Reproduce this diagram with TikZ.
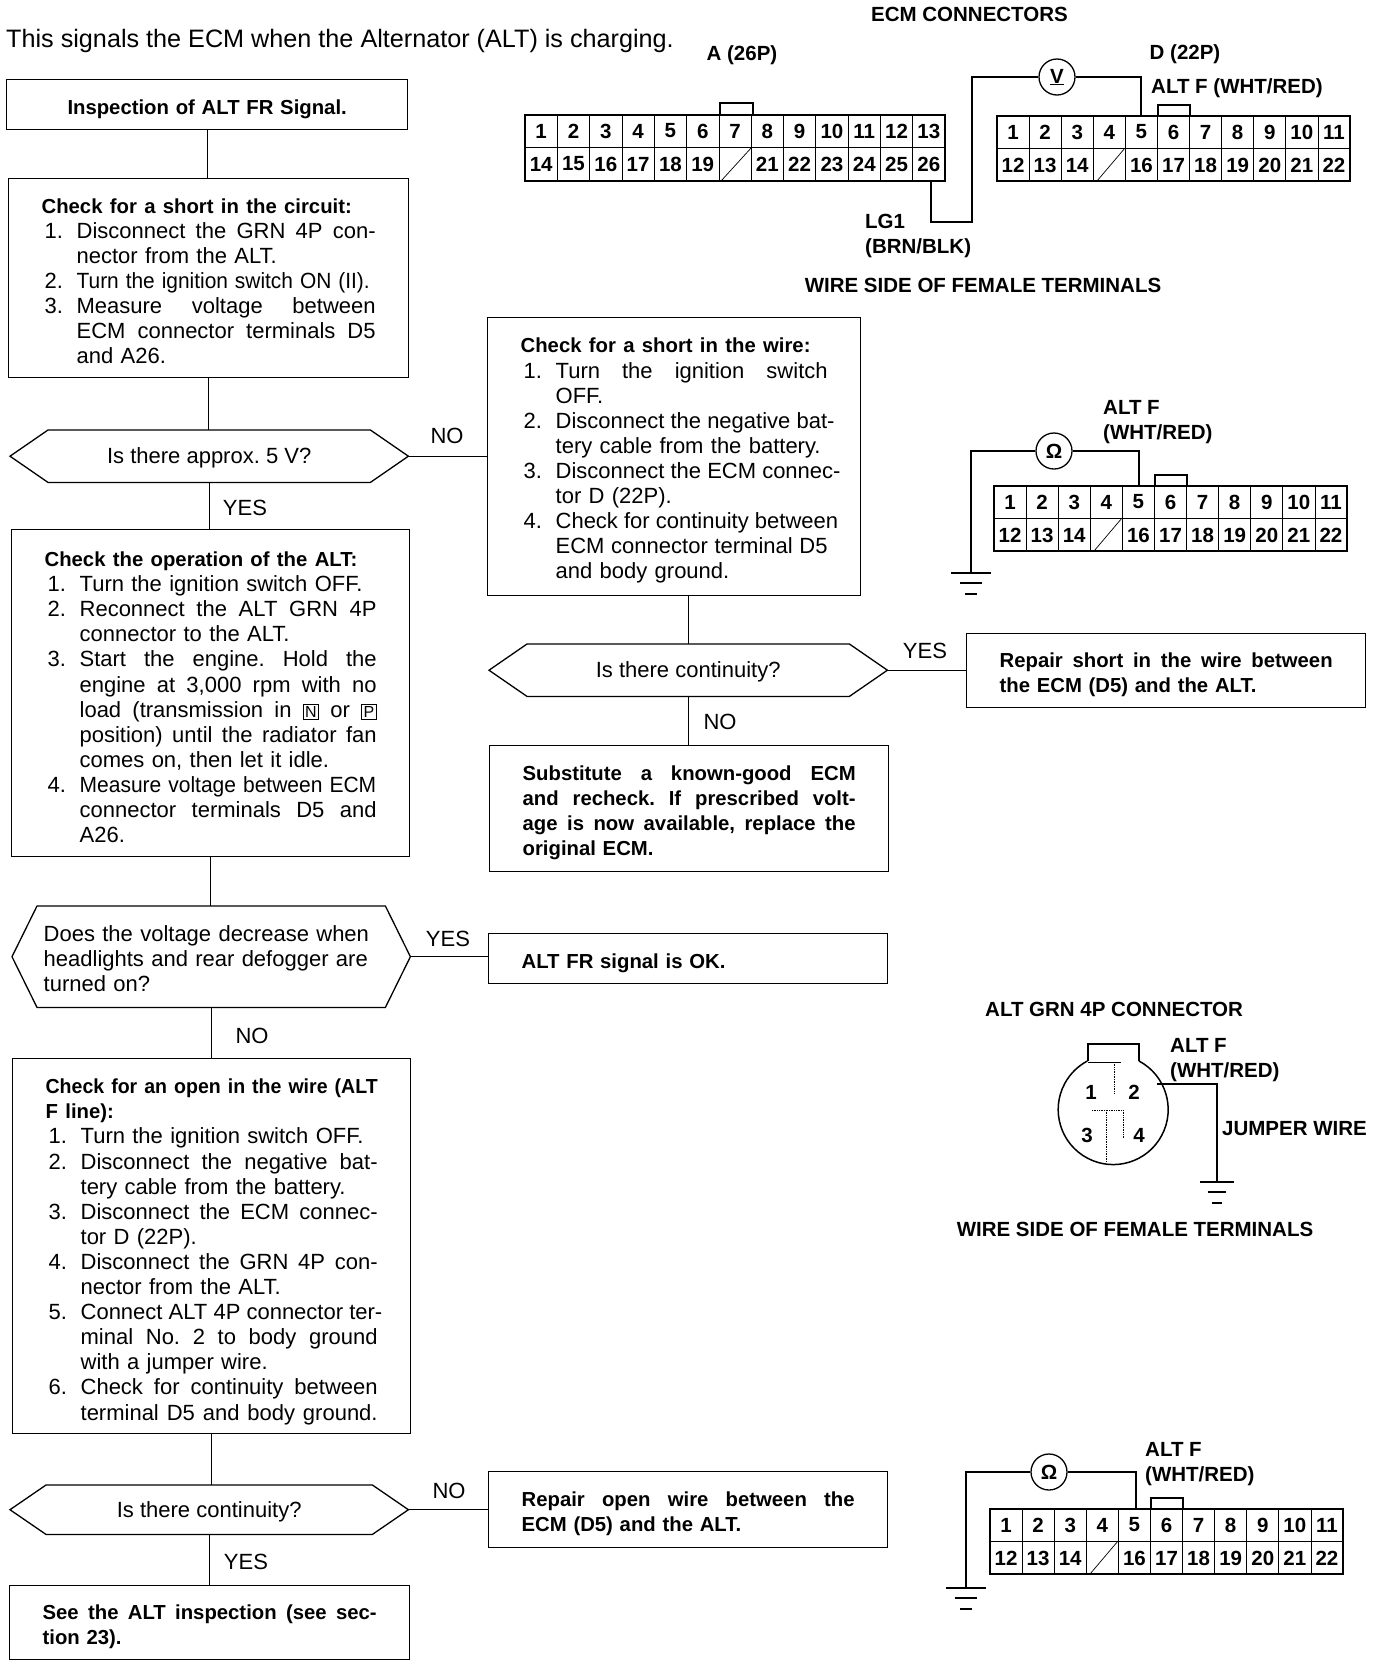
\documentclass[tikz,border=0pt]{standalone}
\usepackage{fontspec}
\setmainfont{Liberation Sans}
\frenchspacing
\newlength{\lw}
\newcommand{\tfont}{\fontsize{22}{25.1}\selectfont}
\newcommand{\bfont}{\fontsize{20.3}{25.1}\selectfont\bfseries}
\newcommand{\lfont}{\fontsize{20.5}{25}\selectfont\bfseries}
\newcommand{\hd}[2][23]{{\rule{0pt}{#1pt}\bfont #2}}
\newcommand{\sj}{\spaceskip=.278em plus 1em\relax}
\newcommand{\stp}[2]{\makebox[35pt][l]{\hspace*{3pt}#1}#2}
\newcommand{\stj}[2]{\makebox[35pt][l]{\hspace*{3pt}#1}\makebox[\dimexpr\lw-35pt][s]{\sj #2}}
\newcommand{\cont}[1]{\hspace*{35pt}#1}
\newcommand{\conj}[1]{\hspace*{35pt}\makebox[\dimexpr\lw-35pt][s]{\sj #1}}
\newcommand{\jl}[1]{\makebox[\lw][s]{\sj #1}}
\newcommand{\shf}[1]{\smash{\setlength{\fboxsep}{1.5pt}\setlength{\fboxrule}{.9pt}\fbox{\fontsize{16}{16}\selectfont #1}}}
\tikzset{
	box/.style={draw,line width=1.3pt,anchor=north west,inner xsep=33pt,inner ysep=0pt,align=left,font=\tfont,text width=#1,execute at begin node={\setlength{\lw}{#1}}},
	bbox/.style={draw,line width=1.3pt,anchor=north west,inner xsep=33pt,inner ysep=0pt,align=left,font=\bfont,text width=#1,execute at begin node={\setlength{\lw}{#1}\rule{0pt}{23.5pt}}},
	hexone/.style={anchor=north west,inner sep=0pt,align=center,font=\tfont,text height=18pt,text depth=3pt},
	hexthree/.style={anchor=north west,inner xsep=31.5pt,inner ysep=0pt,align=left,font=\tfont,text width=335pt,execute at begin node={\rule{0pt}{19pt}}},
	ans/.style={font=\tfont,inner sep=0pt},
	lab/.style={font=\lfont,inner sep=0pt},
	pin/.style={font=\lfont,inner sep=0pt},
	meter/.style={circle,draw,line width=1.3pt,minimum size=36pt,inner sep=0pt,font=\lfont},
	flow/.style={line width=1.3pt},
	wire/.style={line width=1.5pt},
	grid/.style={line width=.7pt},
}
\begin{document}
\begin{tikzpicture}[x=1pt,y=-1pt]
\useasboundingbox (0,0) rectangle (1376,1666);
% left column
\node[anchor=west,inner sep=0pt,font=\fontsize{25.2}{28}\selectfont] (intro) at (6,41) {This signals the ECM when the Alternator (ALT) is charging.};
\node[bbox=335pt,minimum height=50pt,align=center] (b1) at (6,79) {Inspection of ALT FR Signal.};
\node[box=334pt,minimum height=199pt] (b2) at (8,178) {\hd[21]{Check for a short in the circuit:}\\
\stj{1.}{Disconnect the GRN 4P con-}\\
\cont{nector from the ALT.}\\
\stp{2.}{\scalebox{.95}[1]{Turn the ignition switch ON (II).}}\\
\stj{3.}{Measure voltage between}\\
\conj{ECM connector terminals D5}\\
\cont{and A26.}};
\node[hexone,minimum width=398pt,minimum height=52pt] (d1) at (10,430) {Is there approx. 5 V?};
\node[box=332pt,minimum height=327pt] (b3) at (11,529) {\hd{Check the operation of the ALT:}\\
\stp{1.}{Turn the ignition switch OFF.}\\
\stj{2.}{Reconnect the ALT GRN 4P}\\
\cont{connector to the ALT.}\\
\stj{3.}{Start the engine. Hold the}\\
\conj{engine at 3,000 rpm with no}\\
\conj{load (transmission in \shf{N} or \shf{P}}\\
\conj{position) until the radiator fan}\\
\cont{comes on, then let it idle.}\\
\stp{4.}{\scalebox{.955}[1]{Measure voltage between ECM}}\\
\conj{connector terminals D5 and}\\
\cont{A26.}};
\node[hexthree,minimum width=398pt,minimum height=101pt] (d2) at (12,906) {Does the voltage decrease when\\headlights and rear defogger are\\turned on?};
\node[box=332pt,minimum height=375pt] (b4) at (12,1058) {\hd[26]{\resizebox{\lw}{\height}{\bfont Check for an open in the wire (ALT}}\\\hd[0]{F line):}\\
\stp{1.}{Turn the ignition switch OFF.}\\
\stj{2.}{Disconnect the negative bat-}\\
\cont{tery cable from the battery.}\\
\stj{3.}{Disconnect the ECM connec-}\\
\cont{tor D (22P).}\\
\stj{4.}{Disconnect the GRN 4P con-}\\
\cont{nector from the ALT.}\\
\stj{5.}{Connect ALT 4P connector ter-}\\
\conj{minal No. 2 to body ground}\\
\cont{with a jumper wire.}\\
\stj{6.}{Check for continuity between}\\
\conj{terminal D5 and body ground.}};
\node[hexone,minimum width=398pt,minimum height=49pt] (d3) at (10,1485) {Is there continuity?};
\node[bbox=334pt,minimum height=74pt] (b5) at (9,1585) {\jl{See the ALT inspection (see sec-}\\tion 23).};
% middle column
\node[box=307pt,minimum height=278pt] (m1) at (487,317) {\hd{Check for a short in the wire:}\\
\stj{1.}{Turn the ignition switch}\\
\cont{OFF.}\\
\stj{2.}{Disconnect the negative bat-}\\
\cont{tery cable from the battery.}\\
\stj{3.}{Disconnect the ECM connec-}\\
\cont{tor D (22P).}\\
\stj{4.}{Check for continuity between}\\
\conj{ECM connector terminal D5}\\
\cont{and body ground.}};
\node[hexone,minimum width=398pt,minimum height=52pt] (d4) at (489,644) {Is there continuity?};
\node[bbox=333pt,minimum height=74pt] (r1) at (966,633) {\jl{Repair short in the wire between}\\the ECM (D5) and the ALT.};
\node[bbox=333pt,minimum height=126pt] (m2) at (489,745) {\jl{Substitute a known-good ECM}\\\jl{and recheck. If prescribed volt-}\\\jl{age is now available, replace the}\\original ECM.};
\node[bbox=333pt,minimum height=50pt] (m3) at (488,933) {ALT FR signal is OK.};
\node[bbox=333pt,minimum height=76pt] (r2) at (488,1471) {\jl{Repair open wire between the}\\ECM (D5) and the ALT.};
% decision outlines
\def\hexa#1#2{
	\draw[flow] (#1.west) -- ([xshift=#2pt]#1.north west) -- ([xshift=-#2pt]#1.north east) -- (#1.east) -- ([xshift=-#2pt]#1.south east) -- ([xshift=#2pt]#1.south west) -- cycle;
}
\hexa{d1}{38}
\hexa{d2}{25}
\hexa{d3}{36}
\hexa{d4}{38}
% flow lines
\draw[flow] (b1.south) -- (b1.south |- b2.north);
\draw[flow] (b2.south) -- (b2.south |- d1.north);
\draw[flow] (d1.south) -- (d1.south |- b3.north);
\draw[flow] (b3.south) -- (b3.south |- d2.north);
\draw[flow] (d2.south) -- (d2.south |- b4.north);
\draw[flow] (b4.south) -- (b4.south |- d3.north);
\draw[flow] (d3.south) -- (d3.south |- b5.north);
\draw[flow] (d1.east) -- (d1.east -| m1.west);
\draw[flow] (d4.north) -- (d4.north |- m1.south);
\draw[flow] (d4.south) -- (d4.south |- m2.north);
\draw[flow] (d4.east) -- (d4.east -| r1.west);
\draw[flow] (d2.east) -- (d2.east -| m3.west);
\draw[flow] (d3.east) -- (d3.east -| r2.west);
\node[ans] (no1) at (447,436) {NO};
\node[ans] (yes1) at (245,508) {YES};
\node[ans] (yes2) at (448,939) {YES};
\node[ans] (no2) at (252,1036) {NO};
\node[ans] (no3) at (449,1491) {NO};
\node[ans] (yes3) at (246,1562) {YES};
\node[ans] (yes4) at (925,651) {YES};
\node[ans] (no4) at (720,722) {NO};
% connectors
\def\plugd#1#2#3{
	\begin{scope}[shift={(#2,#3)}]
	\draw[wire] (0,0) rectangle (353,65);
	\draw[wire] (161,0) |- (193,-11) -- (193,0);
	\draw[grid] (0,32) -- (353,32);
	\foreach \n in {1,...,10}{
		\draw[grid] ({\n*32.09},0) -- ({\n*32.09},65);
	}
	\draw[grid] (100,65) -- (128,32);
	\foreach \n in {1,...,11}{
		\node[pin] (#1t\n) at ({(\n-.5)*32.09},16) {\n};
		\pgfmathtruncatemacro{\m}{\n+11}
		\ifnum\m=15\else
			\node[pin] (#1b\m) at ({(\n-.5)*32.09},49) {\m};
		\fi
	}
	\end{scope}
}
\begin{scope}[shift={(525,115)}]
\draw[wire] (0,0) rectangle (420,66);
\draw[wire] (195,0) |- (228,-12) -- (228,0);
\draw[grid] (0,32) -- (420,32);
\foreach \n in {1,...,12}{
	\draw[grid] ({\n*32.31},0) -- ({\n*32.31},66);
}
\draw[grid] (196,66) -- (227,32);
\foreach \n in {1,...,13}{
	\node[pin] (at\n) at ({(\n-.5)*32.31},16) {\n};
	\pgfmathtruncatemacro{\m}{\n+13}
	\ifnum\m=20\else
		\node[pin] (ab\m) at ({(\n-.5)*32.31},49) {\m};
	\fi
}
\end{scope}
\plugd{d}{997}{116}
\plugd{e}{994}{486}
\plugd{f}{990}{1509}
% meters and wires
\def\gnd#1#2{
	\draw[wire] ([xshift=-#2pt]#1) -- ([xshift=#2pt]#1);
	\draw[wire] ([shift={({-.55*#2},10)}]#1) -- ([shift={({.55*#2},10)}]#1);
	\draw[wire] ([shift={({-.3*#2},21)}]#1) -- ([shift={({.3*#2},21)}]#1);
}
\node[meter] (vm) at (1057,77) {\underline{V}};
\coordinate (aw) at (931,181);
\coordinate (lg) at (931,222);
\coordinate (vc) at (972,77);
\coordinate (dw) at (1141,116);
\draw[wire] (aw) -- (lg) -| (vc) -- (vm);
\draw[wire] (vm) -| (dw);
\node[meter] (om1) at (1054,451) {Ω};
\coordinate (g1) at (971,573);
\coordinate (ew) at (1139,486);
\draw[wire] (om1) -| (g1);
\draw[wire] (om1) -| (ew);
\gnd{g1}{20}
\node[meter] (om2) at (1049,1472) {Ω};
\coordinate (g2) at (966,1588);
\coordinate (fw) at (1136,1509);
\draw[wire] (om2) -| (g2);
\draw[wire] (om2) -| (fw);
\gnd{g2}{20}
% 4P connector
\draw[wire] (1088,1061) -- (1088,1044) -- (1139,1044) -- (1139,1061);
\draw[wire] (1139,1061) arc[start angle=62,end angle=-242,radius=55pt];
\draw[grid] (1088,1062) -- (1121,1062);
\draw[grid,densely dotted] (1114,1062) -- (1114,1093);
\draw[grid,densely dotted] (1092,1110) -- (1124,1110);
\draw[grid,densely dotted] (1123,1110) -- (1123,1138);
\draw[grid,densely dotted] (1106,1110) -- (1106,1162);
\node[pin] (p1) at (1091,1092) {1};
\node[pin] (p2) at (1134,1092) {2};
\node[pin] (p3) at (1087,1135) {3};
\node[pin] (p4) at (1139,1135) {4};
\coordinate (jw) at (1157,1084);
\coordinate (g3) at (1217,1182);
\draw[wire] (jw) -| (g3);
\gnd{g3}{17}
% labels
\node[lab] (ecm) at (969.5,14) {ECM CONNECTORS};
\node[lab] (pa) at (742,55) {A (26P)};
\node[lab] (pd) at (1185,54) {D (22P)};
\node[lab,anchor=west] (af1) at (1151,88) {ALT F (WHT/RED)};
\node[lab,anchor=west,align=left] (lg1) at (865,235.5) {LG1\\(BRN/BLK)};
\node[lab] (ws1) at (983,285) {WIRE SIDE OF FEMALE TERMINALS};
\node[lab,anchor=west,align=left] (af2) at (1103,422) {ALT F\\(WHT/RED)};
\node[lab,anchor=west] (g4p) at (985,1009) {ALT GRN 4P CONNECTOR};
\node[lab,anchor=west,align=left] (af3) at (1170,1060) {ALT F\\(WHT/RED)};
\node[lab,anchor=west] (jmp) at (1222,1129) {JUMPER WIRE};
\node[lab] (ws2) at (1135,1229) {WIRE SIDE OF FEMALE TERMINALS};
\node[lab,anchor=west,align=left] (af4) at (1145,1464) {ALT F\\(WHT/RED)};
\end{tikzpicture}
\end{document}
